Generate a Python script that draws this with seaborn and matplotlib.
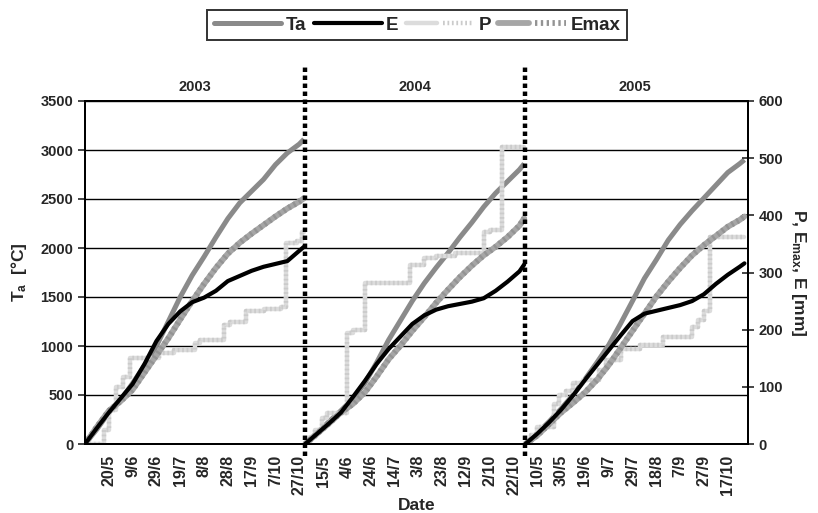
import pandas as pd
import matplotlib
matplotlib.use("Agg")
import matplotlib.pyplot as plt
from matplotlib.lines import Line2D
from matplotlib.legend_handler import HandlerTuple
import seaborn as sns

# each season is a block of daily rows (30/4 .. 31/10), blocks laid end to end
seasons = ["2003", "2004", "2005"]
season_start = [0, 185, 370]
season_end = 184

# sample days inside a season for the cumulative curves
days = [0, 10, 20, 30, 40, 50, 60, 70, 80, 90, 100, 110, 120, 130, 140, 150, 160, 170, 180, 184]

# air temperature sum [°C] (left axis)
ta_2003 = [0, 150, 320, 450, 620, 800, 1000, 1250, 1500, 1720, 1910, 2110, 2300, 2460, 2580, 2700, 2850, 2970, 3060, 3110]
ta_2004 = [0, 110, 230, 340, 460, 620, 830, 1060, 1260, 1460, 1640, 1800, 1950, 2110, 2260, 2420, 2560, 2680, 2800, 2860]
ta_2005 = [0, 110, 230, 360, 500, 660, 830, 1010, 1230, 1460, 1690, 1880, 2080, 2240, 2380, 2510, 2640, 2770, 2860, 2900]

# evapotranspiration E [mm] (right axis)
e_2003 = [0, 28, 55, 80, 105, 140, 180, 210, 232, 248, 256, 268, 285, 294, 303, 310, 315, 320, 338, 345]
e_2004 = [0, 18, 36, 55, 82, 110, 140, 166, 188, 210, 225, 235, 241, 245, 249, 255, 268, 284, 302, 314]
e_2005 = [0, 18, 38, 60, 85, 112, 138, 164, 190, 215, 228, 233, 238, 243, 250, 262, 280, 296, 310, 316]

# potential evapotranspiration Emax [mm] (right axis)
emax_2003 = [0, 30, 58, 75, 95, 125, 155, 185, 218, 250, 280, 308, 333, 352, 368, 383, 398, 412, 424, 430]
emax_2004 = [0, 18, 36, 55, 70, 90, 118, 148, 172, 198, 222, 247, 270, 292, 312, 330, 345, 362, 382, 395]
emax_2005 = [0, 15, 35, 55, 72, 90, 112, 138, 168, 198, 228, 258, 284, 308, 330, 348, 364, 380, 392, 398]

# precipitation sum P [mm], step changes (day, value)
p_days_2003 = [0, 16, 20, 26, 32, 38, 62, 75, 92, 97, 117, 122, 135, 150, 165, 169, 178, 182, 184]
p_2003 = [0, 25, 60, 100, 118, 150, 159, 165, 176, 182, 208, 214, 232, 236, 240, 351, 355, 371, 372]
p_days_2004 = [0, 4, 8, 14, 18, 35, 40, 50, 88, 100, 110, 126, 150, 155, 165, 184]
p_2004 = [0, 12, 25, 45, 54, 194, 199, 281, 313, 325, 328, 334, 371, 374, 520, 520]
p_days_2005 = [0, 5, 10, 24, 28, 34, 40, 48, 62, 68, 80, 96, 116, 140, 145, 150, 155, 184]
p_2005 = [0, 15, 30, 70, 85, 92, 106, 112, 130, 147, 167, 173, 188, 205, 217, 232, 362, 362]

tick_labels = ["", "20/5", "9/6", "29/6", "19/7", "8/8", "28/8", "17/9", "7/10", "27/10",
               "15/5", "4/6", "24/6", "14/7", "3/8", "23/8", "12/9", "2/10", "22/10",
               "10/5", "30/5", "19/6", "9/7", "29/7", "18/8", "7/9", "27/9", "17/10"]

ta = [ta_2003, ta_2004, ta_2005]
e = [e_2003, e_2004, e_2005]
emax = [emax_2003, emax_2004, emax_2005]
p_days = [p_days_2003, p_days_2004, p_days_2005]
p = [p_2003, p_2004, p_2005]

sns.set_style("white")
plt.rcParams["font.family"] = ["Liberation Sans", "DejaVu Sans"]
plt.rcParams["font.weight"] = "bold"
plt.rcParams["mathtext.default"] = "regular"

TA_COL = "#8a8a8a"
EMAX_COL = "#a6a6a6"
EMAX_HATCH = "#939393"
P_COL = "#dcdcdc"
P_HATCH = "#cbcbcb"
HATCH = (0, (0.4, 0.6))

fig = plt.figure(figsize=(8.18, 5.13), dpi=100)
ax = fig.add_axes([85 / 818, 69 / 513, 663 / 818, 343 / 513])
ax2 = ax.twinx()

for i, s in enumerate(seasons):
    x = [season_start[i] + d for d in days]
    xp = [season_start[i] + d for d in p_days[i]]
    sns.lineplot(x=x, y=ta[i], ax=ax, color=TA_COL, lw=3.6, solid_capstyle="butt")
    sns.lineplot(x=xp, y=p[i], ax=ax2, color=P_COL, lw=3.2, drawstyle="steps-post")
    sns.lineplot(x=xp, y=p[i], ax=ax2, color=P_HATCH, lw=3.2, drawstyle="steps-post", linestyle=HATCH)
    sns.lineplot(x=x, y=emax[i], ax=ax2, color=EMAX_COL, lw=4.2)
    sns.lineplot(x=x, y=emax[i], ax=ax2, color=EMAX_HATCH, lw=4.2, linestyle=HATCH)
    sns.lineplot(x=x, y=e[i], ax=ax2, color="black", lw=3.0)

ax.set_xlim(0, 557)
ax.set_ylim(0, 3500)
ax.set_yticks(range(0, 3501, 500))
ax2.set_ylim(0, 600)
ax2.set_yticks(range(0, 601, 100))
ax.set_xticks(range(0, 541, 20))
ax.set_xticklabels(tick_labels, rotation=90, fontsize=11.5, fontweight="bold")
ax.tick_params(axis="x", direction="out", length=5, width=1.2, pad=3)
ax.tick_params(axis="y", direction="out", length=5, width=1.2, labelsize=10.5)
ax2.tick_params(axis="y", direction="inout", length=8, width=1.2, labelsize=10.5)
for t in ax.get_yticklabels() + ax2.get_yticklabels():
    t.set_fontweight("bold")

ax.grid(axis="y", color="black", lw=1.0)
ax.set_axisbelow(True)
for a in (ax, ax2):
    for sp in a.spines.values():
        sp.set_color("black")
        sp.set_linewidth(1.4)

# season separators and year labels
for i, s in enumerate(seasons):
    if i > 0:
        xs = season_start[i] - 0.5
        ax2.plot([xs, xs], [-0.035, 1.10], color="black", lw=3.2,
                 linestyle=(0, (1, 0.8)), dash_capstyle="butt",
                 transform=ax2.get_xaxis_transform(), clip_on=False, zorder=6)
    ax.text(season_start[i] + season_end / 2, 1.04, s, transform=ax.get_xaxis_transform(),
            ha="center", va="center", fontsize=10.5, fontweight="bold")

ax.set_xlabel("Date", fontsize=12.5, fontweight="bold", labelpad=2)
ax.set_ylabel("T$_a$  [°C]", fontsize=12.5, fontweight="bold", labelpad=8)
ax2.set_ylabel("P, E$_{max}$, E [mm]", fontsize=12.5, fontweight="bold",
               rotation=270, labelpad=18)

handles = [
    Line2D([], [], color=TA_COL, lw=3.6),
    Line2D([], [], color="black", lw=3.0),
    (Line2D([], [], color=P_COL, lw=3.2), Line2D([], [], color=P_HATCH, lw=3.2, linestyle=HATCH)),
    (Line2D([], [], color=EMAX_COL, lw=4.2), Line2D([], [], color=EMAX_HATCH, lw=4.2, linestyle=HATCH)),
]
leg = fig.legend(handles, ["Ta", "E", "P", "Emax"], loc="center", bbox_to_anchor=(0.51, 0.951),
                 ncol=4, frameon=True, fancybox=False, edgecolor="black", handlelength=3.6,
                 columnspacing=0.4, handletextpad=0.25, borderpad=0.35,
                 handler_map={tuple: HandlerTuple(ndivide=None)},
                 prop={"weight": "bold", "size": 13.5})
leg.get_frame().set_linewidth(1.4)

fig.savefig("out.png", dpi=100)
